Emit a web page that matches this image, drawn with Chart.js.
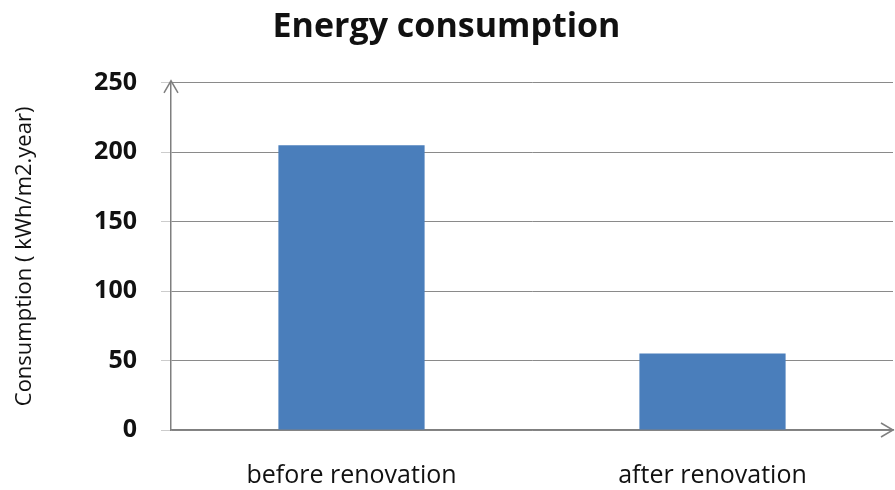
<!DOCTYPE html>
<html>
<head>
<meta charset="utf-8">
<script src="https://cdn.jsdelivr.net/npm/chart.js@4/dist/chart.umd.min.js"></script>
<style>
html,body{margin:0;padding:0;background:#fff;overflow:hidden;}
canvas{display:block;}
</style>
</head>
<body>
<canvas id="c" width="895" height="490"></canvas>
<script>
const categories = ["before renovation", "after renovation"];
const consumption = [205, 55];
const yTicks = [0, 50, 100, 150, 200, 250];
const chartTitle = "Energy consumption";
const yAxisTitle = "Consumption ( kWh/m2.year)";

const FONT = "'Open Sans', sans-serif";

const arrowPlugin = {
  id: 'arrows',
  afterDraw(chart) {
    const ctx = chart.ctx;
    const a = chart.chartArea;
    const y = chart.scales.y;
    ctx.save();
    ctx.strokeStyle = '#7f7f7f';
    ctx.lineWidth = 1.5;
    const x0 = y.right;
    ctx.beginPath();
    ctx.moveTo(x0, a.top);
    ctx.lineTo(x0, a.top - 2);
    ctx.moveTo(x0 - 7, a.top + 10);
    ctx.lineTo(x0, a.top - 2);
    ctx.lineTo(x0 + 7, a.top + 10);
    ctx.stroke();
    const yb = a.bottom;
    ctx.beginPath();
    ctx.moveTo(a.right - 12, yb - 7);
    ctx.lineTo(a.right, yb);
    ctx.lineTo(a.right - 12, yb + 7);
    ctx.stroke();
    ctx.restore();
  }
};

new Chart(document.getElementById('c'), {
  type: 'bar',
  data: {
    labels: categories,
    datasets: [{
      data: consumption,
      backgroundColor: '#4A7EBB',
      borderWidth: 0,
      barPercentage: 0.405,
      categoryPercentage: 1.0
    }]
  },
  options: {
    responsive: false,
    animation: false,
    devicePixelRatio: 1,
    layout: { padding: { left: 0, right: 2, top: 0, bottom: 0 } },
    plugins: {
      legend: { display: false },
      tooltip: { enabled: false },
      title: {
        display: true,
        text: chartTitle,
        color: '#111111',
        font: { family: FONT, size: 34, weight: 'bold' },
        padding: { top: 7, bottom: 35 }
      }
    },
    scales: {
      x: {
        grid: { display: false },
        border: { display: true, color: '#7f7f7f', width: 1.5 },
        ticks: {
          color: '#111111',
          font: { family: FONT, size: 25 },
          padding: 23,
          maxRotation: 0
        },
        afterFit(s) { s.height = 60; }
      },
      y: {
        min: 0,
        max: 250,
        afterBuildTicks(s) { s.ticks = yTicks.map(v => ({ value: v })); },
        grid: {
          color: '#8a8a8a',
          lineWidth: 1,
          drawTicks: true,
          tickLength: 10,
          tickColor: '#cccccc'
        },
        border: { display: true, color: '#7f7f7f', width: 1.5 },
        ticks: {
          color: '#111111',
          font: { family: FONT, size: 25, weight: 'bold' },
          padding: 24
        },
        title: {
          display: true,
          text: yAxisTitle,
          color: '#111111',
          font: { family: FONT, size: 22 },
          padding: { top: 12, bottom: 0 }
        },
        afterFit(s) { s.width = 171; }
      }
    }
  },
  plugins: [arrowPlugin]
});
</script>
</body>
</html>
